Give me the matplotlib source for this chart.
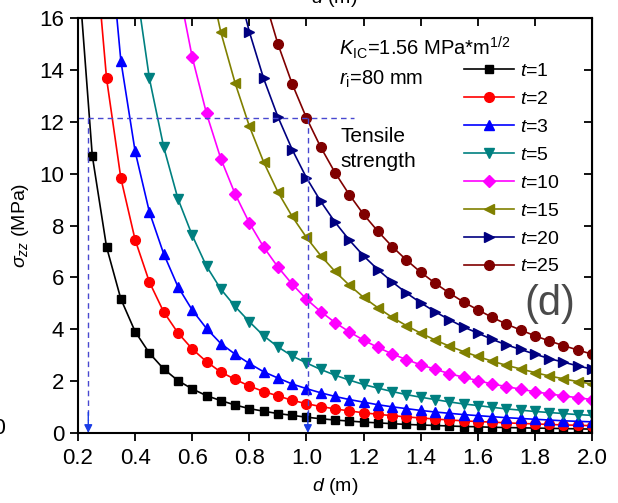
import numpy as np
import matplotlib
matplotlib.use("Agg")
import matplotlib.pyplot as plt

plt.rcParams['font.family'] = ['Liberation Sans', 'DejaVu Sans']
plt.rcParams['mathtext.fontset'] = 'custom'
plt.rcParams['mathtext.rm'] = 'Liberation Sans'
plt.rcParams['mathtext.it'] = 'Liberation Sans:italic'
plt.rcParams['mathtext.sf'] = 'Liberation Sans'

# distance from the hole d (m)
d = [0.20, 0.25, 0.30, 0.35, 0.40, 0.45, 0.50, 0.55, 0.60, 0.65, 0.70, 0.75,
     0.80, 0.85, 0.90, 0.95, 1.00, 1.05, 1.10, 1.15, 1.20, 1.25, 1.30, 1.35,
     1.40, 1.45, 1.50, 1.55, 1.60, 1.65, 1.70, 1.75, 1.80, 1.85, 1.90, 1.95, 2.00]

# sigma_zz (MPa), each list ends at d = 2.0
s_t1 = [18.0, 10.69, 7.17, 5.17, 3.91, 3.08, 2.47, 2.02, 1.70, 1.44, 1.25, 1.08,
        0.94, 0.84, 0.75, 0.68, 0.61, 0.55, 0.50, 0.46, 0.42, 0.39, 0.36, 0.33,
        0.31, 0.29, 0.27, 0.25, 0.24, 0.22, 0.21, 0.20, 0.19, 0.18, 0.17, 0.16, 0.15]
s_t2 = [20.0, 13.67, 9.83, 7.45, 5.82, 4.67, 3.86, 3.24, 2.75, 2.35, 2.07,
        1.81, 1.60, 1.43, 1.26, 1.13, 1.02, 0.93, 0.85, 0.78, 0.72, 0.67, 0.62,
        0.58, 0.54, 0.50, 0.47, 0.44, 0.42, 0.39, 0.37, 0.35, 0.33, 0.31, 0.30, 0.28]
s_t3 = [20.3, 14.36, 10.86, 8.52, 6.91, 5.64, 4.74, 4.03, 3.45, 3.04,
        2.68, 2.36, 2.12, 1.89, 1.71, 1.55, 1.41, 1.29, 1.19, 1.09, 1.01, 0.94,
        0.87, 0.81, 0.76, 0.71, 0.67, 0.63, 0.59, 0.56, 0.53, 0.50, 0.47, 0.45, 0.43]
s_t5 = [17.5, 13.67, 11.03, 9.03, 7.62, 6.43, 5.55, 4.88,
        4.29, 3.75, 3.32, 2.97, 2.70, 2.45, 2.23, 2.04, 1.87, 1.73, 1.60, 1.48,
        1.38, 1.29, 1.20, 1.12, 1.06, 0.99, 0.93, 0.88, 0.83, 0.79, 0.75, 0.71, 0.68]
s_t10 = [17.3, 14.49, 12.32, 10.58, 9.22,
         8.10, 7.17, 6.40, 5.74, 5.16, 4.68, 4.26, 3.90, 3.58, 3.30, 3.05, 2.83,
         2.63, 2.46, 2.29, 2.15, 2.02, 1.89, 1.79, 1.69, 1.59, 1.51, 1.43, 1.36, 1.29]
s_t15 = [18.0, 15.46, 13.50,
         11.83, 10.45, 9.29, 8.35, 7.54, 6.84, 6.23, 5.70, 5.23, 4.83, 4.46, 4.14,
         3.85, 3.59, 3.35, 3.14, 2.95, 2.77, 2.61, 2.47, 2.33, 2.20, 2.09, 1.98, 1.89]
s_t20 = [17.6,
         15.47, 13.67, 12.19, 10.93, 9.84, 8.93, 8.13, 7.44, 6.83, 6.30, 5.83, 5.40,
         5.02, 4.68, 4.37, 4.09, 3.85, 3.61, 3.40, 3.22, 3.04, 2.87, 2.73, 2.59, 2.46]
s_t25 = [16.86, 15.0, 13.46, 12.15, 11.02, 10.04, 9.19, 8.43, 7.78, 7.19, 6.67,
         6.20, 5.78, 5.40, 5.05, 4.75, 4.46, 4.20, 3.97, 3.75, 3.55, 3.37, 3.20, 3.04]

labels = ['1', '2', '3', '5', '10', '15', '20', '25']
series = [s_t1, s_t2, s_t3, s_t5, s_t10, s_t15, s_t20, s_t25]
colors = ['#000000', '#ff0000', '#0000ff', '#008080', '#ff00ff', '#808000', '#000080', '#800000']
markers = ['s', 'o', '^', 'v', 'D', '<', '>', 'o']
msizes = [6, 7, 7.5, 7.5, 6, 7.5, 7.5, 7]

# tensile strength and where it is reached
tensile = 12.15
d_min = 0.236
d_max = 1.005
d_line_end = 1.165

fig = plt.figure(figsize=(6.18, 5.03), dpi=100)
ax = fig.add_axes([78/618, 70/503, 514/618, 415/503])

for vals, lab, c, m, ms in zip(series, labels, colors, markers, msizes):
    ax.plot(d[-len(vals):], vals, color=c, marker=m, markersize=ms, lw=1.2,
            label=r'$t$=' + lab)

# tensile strength guide lines
dash_c = '#4848d0'
ax.plot([0.2, d_line_end], [tensile, tensile], ls=(0, (4, 3)), color=dash_c, lw=1)
for xx in [d_min, d_max]:
    ax.plot([xx, xx], [tensile, 0.5], ls=(0, (4, 3)), color=dash_c, lw=1)
    ax.annotate('', xy=(xx, 0), xytext=(xx, 0.8),
                arrowprops=dict(arrowstyle='-|>', color='#1a3ce6', lw=1,
                                mutation_scale=12, shrinkA=0, shrinkB=0))

ax.set_xlim(0.2, 2.0)
ax.set_ylim(0, 16)
ax.set_xticks(np.arange(0.2, 2.01, 0.2))
ax.set_xticklabels(['0.2', '0.4', '0.6', '0.8', '1.0', '1.2', '1.4', '1.6', '1.8', '2.0'])
ax.set_yticks(range(0, 17, 2))
ax.tick_params(direction='out', length=6, width=1.3, labelsize=16)
ax.tick_params(axis='x', pad=5)
ax.tick_params(axis='y', pad=4)
for sp in ax.spines.values():
    sp.set_linewidth(1.5)

top = ax.secondary_xaxis('top')
top.set_xticks(np.arange(0.2, 2.01, 0.2))
top.tick_params(direction='in', length=6, width=1.3, labeltop=False)
right = ax.secondary_yaxis('right')
right.set_yticks(range(0, 17, 2))
right.tick_params(direction='in', length=6, width=1.3, labelright=False)

ax.set_xlabel(r'$d$ (m)', fontsize=14, labelpad=5)
ax.set_ylabel(r'$\sigma_{zz}$ (MPa)', fontsize=14, labelpad=6)

ax.text(0.508, 0.91, r'$K_{\rm IC}$=1.56 MPa*m$^{1/2}$', transform=ax.transAxes,
        fontsize=14.5, va='baseline')
ax.text(0.508, 0.84, r'$r_{\rm i}$=80 mm', transform=ax.transAxes,
        fontsize=14.5, va='baseline')
ax.text(0.51, 0.701, 'Tensile', transform=ax.transAxes, fontsize=15, va='baseline')
ax.text(0.51, 0.641, 'strength', transform=ax.transAxes, fontsize=15, va='baseline')
ax.text(0.918, 0.31, '(d)', transform=ax.transAxes, fontsize=30, color='#4a4a4a',
        ha='center', va='center')

ax.legend(loc='upper left', bbox_to_anchor=(0.75, 0.893), frameon=False,
          fontsize=14, handlelength=2.6, handletextpad=0.3, labelspacing=0.53,
          borderpad=0, borderaxespad=0)

# pieces of the neighbouring panels cut by the crop
fig.text(7/618, 75/503, '2.0', fontsize=16, ha='right', va='center')
fig.text(334/618, 500/503, r'$d$ (m)', fontsize=14, ha='center', va='baseline')

fig.savefig('out.png', dpi=100)
